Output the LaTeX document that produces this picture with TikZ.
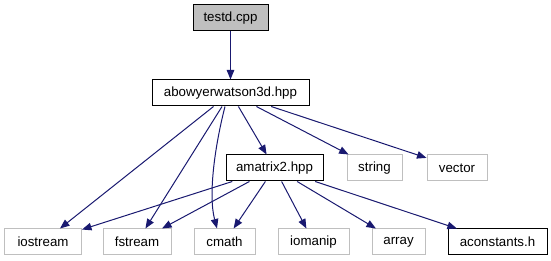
\documentclass[tikz,border=0pt]{standalone}
\usepackage{fontspec}
\setmainfont{Liberation Sans}
\usetikzlibrary{arrows.meta,calc}
\definecolor{edgeblue}{HTML}{191970}
\definecolor{boxgray}{HTML}{BFBFBF}
\begin{document}
\begin{tikzpicture}[x=1pt,y=1pt,
  file/.style={draw=black,line width=1pt,minimum height=26pt,inner sep=0pt,
    font=\fontsize{13.3}{16}\selectfont},
  sysfile/.style={file,draw=boxgray},
  rootfile/.style={file,fill=boxgray},
  dep/.style={draw=edgeblue,line width=1pt,-{Triangle[length=9.5pt,width=7.5pt]}}]
  \useasboundingbox (0,0) rectangle (551,261);

  % include tree nodes
  \node[rootfile,minimum width=75pt]  (testd) at (230.5,243) {testd.cpp};
  \node[file,minimum width=157pt]     (abw)   at (230.5,168) {abowyerwatson3d.hpp};
  \node[file,minimum width=97pt]      (amx)   at (274.5,93)  {amatrix2.hpp};
  \node[sysfile,minimum width=55pt]   (str)   at (374.5,93)  {string};
  \node[sysfile,minimum width=60pt]   (vec)   at (457,93)    {vector};
  \node[sysfile,minimum width=77pt]   (ios)   at (43,19)     {iostream};
  \node[sysfile,minimum width=68pt]   (fst)   at (137,19)    {fstream};
  \node[sysfile,minimum width=61pt]   (cma)   at (224.5,19)  {cmath};
  \node[sysfile,minimum width=71pt]   (iom)   at (313.5,19)  {iomanip};
  \node[sysfile,minimum width=53pt]   (arr)   at (398.5,19)  {array};
  \node[file,minimum width=99pt]      (acn)   at (497.5,19)  {aconstants.h};

  % include edges
  \draw[dep] (testd) -- (abw);
  \draw[dep] (abw) -- (ios);
  \draw[dep] (abw) -- (fst);
  \draw[dep] ($(abw.south)+(-5.5,0)$) .. controls +(-10,-39) and +(-9,34) .. ($(cma.north)+(-7.5,0)$);
  \draw[dep] (abw) -- (amx);
  \draw[dep] (abw) -- (str);
  \draw[dep] (abw) -- (vec);
  \draw[dep] (amx) -- (ios);
  \draw[dep] (amx) -- (fst);
  \draw[dep] (amx) -- (cma);
  \draw[dep] (amx) -- (iom);
  \draw[dep] (amx) -- (arr);
  \draw[dep] (amx) -- (acn);
\end{tikzpicture}
\end{document}
